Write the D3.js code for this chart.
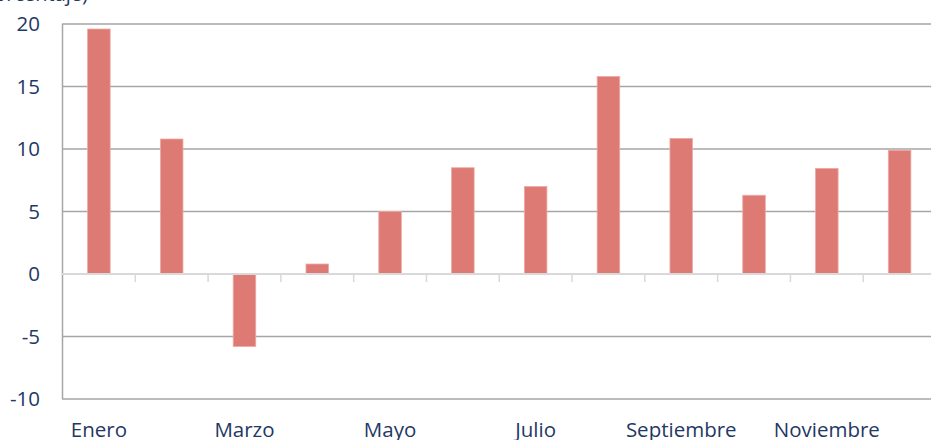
<!DOCTYPE html>
<html><head><meta charset="utf-8">
<script src="https://cdn.jsdelivr.net/npm/d3@7"></script>
<style>body{margin:0;background:#fff}svg{display:block}</style>
</head><body>
<svg id="c" width="931" height="440"></svg>
<script>
const months = ["Enero","Febrero","Marzo","Abril","Mayo","Junio","Julio","Agosto","Septiembre","Octubre","Noviembre","Diciembre"];
const values = [19.6, 10.8, -5.8, 0.8, 5.0, 8.5, 7.0, 15.8, 10.85, 6.3, 8.45, 9.9];
const yTicks = [-10, -5, 0, 5, 10, 15, 20];
const shownLabels = ["Enero","Marzo","Mayo","Julio","Septiembre","Noviembre"];
const unitLabel = "(En porcentaje)";

const svg = d3.select("#c");
const font = "'Open Sans', sans-serif";
const textColor = "#1f3864";
const x = d3.scaleBand().domain(months).range([62.5, 936]).paddingInner(0.69).paddingOuter(0.345);
const xb = d3.scaleBand().domain(months).range([62.5, 936]);
const y = d3.scaleLinear().domain([-10, 20]).range([399, 24]);

// gridlines
svg.append("g").selectAll("line").data(yTicks.filter(d => d !== 0)).join("line")
  .attr("x1", 62).attr("x2", 931).attr("y1", d => y(d)).attr("y2", d => y(d))
  .attr("stroke", "#a6a6a6").attr("stroke-width", 1.5);

// left axis line
svg.append("line").attr("x1", 62.5).attr("x2", 62.5).attr("y1", y(20)).attr("y2", y(-10))
  .attr("stroke", "#a6a6a6").attr("stroke-width", 1.5);

// bars
svg.append("g").selectAll("rect").data(values).join("rect")
  .attr("x", (d, i) => x(months[i]))
  .attr("width", x.bandwidth())
  .attr("y", d => y(Math.max(0, d)))
  .attr("height", d => Math.abs(y(d) - y(0)))
  .attr("fill", "#dd7a74")
  .attr("stroke", "#eeaaa5").attr("stroke-width", 0.8);

// zero axis with ticks
const zg = svg.append("g").attr("transform", `translate(0,${y(0)})`);
zg.append("line").attr("x1", 62).attr("x2", 931).attr("y1", 0).attr("y2", 0)
  .attr("stroke", "#d9d9d9").attr("stroke-width", 2);
zg.selectAll("line.tk").data(months.slice(1)).join("line").attr("class", "tk")
  .attr("x1", d => xb(d)).attr("x2", d => xb(d)).attr("y1", 0).attr("y2", 8)
  .attr("stroke", "#d9d9d9").attr("stroke-width", 1.5);

// y tick labels
svg.append("g").selectAll("text").data(yTicks).join("text")
  .attr("x", 40).attr("y", d => y(d)).attr("dy", "0.35em")
  .attr("text-anchor", "end").attr("font-family", font).attr("font-size", 20.5)
  .attr("fill", textColor).text(d => d);

// x labels
svg.append("g").selectAll("text").data(shownLabels).join("text")
  .attr("x", d => xb(d) + xb.bandwidth() / 2).attr("y", 437)
  .attr("text-anchor", "middle").attr("font-family", font).attr("font-size", 20.5)
  .attr("fill", textColor).text(d => d);

// cut-off unit label at top
svg.append("text").attr("x", 88).attr("y", 1).attr("text-anchor", "end")
  .attr("font-family", font).attr("font-size", 20).attr("fill", textColor).text(unitLabel);
</script>
</body></html>
